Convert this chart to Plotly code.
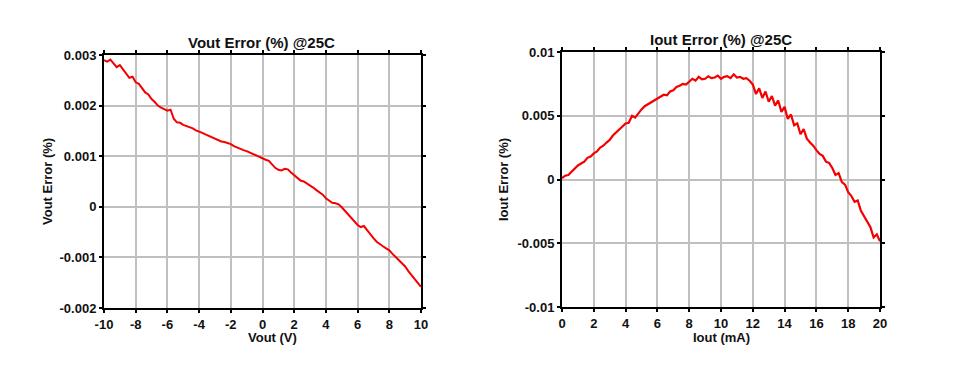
import plotly.graph_objects as go

# ---- Data ----
vout_v = [-10.0, -9.8, -9.6, -9.4, -9.2, -9.0, -8.8, -8.6, -8.4, -8.2, -8.0, -7.8, -7.6, -7.4, -7.2, -7.0,
          -6.8, -6.6, -6.4, -6.2, -6.0, -5.8, -5.6, -5.4, -5.2, -5.0, -4.8, -4.6, -4.4, -4.2, -4.0,
          -3.8, -3.6, -3.4, -3.2, -3.0, -2.8, -2.6, -2.4, -2.2, -2.0, -1.8, -1.6, -1.4, -1.2, -1.0,
          -0.8, -0.6, -0.4, -0.2, 0.0, 0.2, 0.4, 0.6, 0.8, 1.0, 1.2, 1.4, 1.6, 1.8, 2.0,
          2.2, 2.4, 2.6, 2.8, 3.0, 3.2, 3.4, 3.6, 3.8, 4.0, 4.2, 4.4, 4.6, 4.8, 5.0,
          5.2, 5.4, 5.6, 5.8, 6.0, 6.2, 6.4, 6.6, 6.8, 7.0, 7.2, 7.4, 7.6, 7.8, 8.0,
          8.2, 8.4, 8.6, 8.8, 9.0, 9.2, 9.4, 9.6, 9.8, 10.0]
vout_err = [0.00290, 0.00287, 0.00291, 0.00283, 0.00276, 0.00280, 0.00272, 0.00262, 0.00255, 0.00257,
            0.00246, 0.00243, 0.00235, 0.00226, 0.00222, 0.00213, 0.00207, 0.00200, 0.00196, 0.00193,
            0.00190, 0.00192, 0.00174, 0.00167, 0.00166, 0.00162, 0.00160, 0.00157, 0.00155, 0.00151,
            0.00149, 0.00146, 0.00143, 0.00140, 0.00137, 0.00135, 0.00131, 0.00129, 0.00128, 0.00126,
            0.00124, 0.00120, 0.00117, 0.00115, 0.00112, 0.00110, 0.00107, 0.00104, 0.00102, 0.00098,
            0.00096, 0.00093, 0.00091, 0.00084, 0.00077, 0.00073, 0.00072, 0.00075, 0.00074, 0.00068,
            0.00062, 0.00057, 0.00052, 0.00050, 0.00046, 0.00043, 0.00038, 0.00033, 0.00028, 0.00024,
            0.00017, 0.00012, 0.00008, 0.00007, 0.00005, -0.00001, -0.00008, -0.00015, -0.00024, -0.00030,
            -0.00036, -0.00040, -0.00038, -0.00046, -0.00055, -0.00062, -0.00069, -0.00074, -0.00078, -0.00082,
            -0.00086, -0.00093, -0.00099, -0.00104, -0.00112, -0.00118, -0.00127, -0.00135, -0.00141, -0.00150,
            -0.00158]

iout_ma = [0.0, 0.2, 0.4, 0.6, 0.8, 1.0, 1.2, 1.4, 1.6, 1.8, 2.0, 2.2, 2.4, 2.6, 2.8, 3.0, 3.2, 3.4, 3.6, 3.8,
           4.0, 4.2, 4.4, 4.6, 4.8, 5.0, 5.2, 5.4, 5.6, 5.8, 6.0, 6.2, 6.4, 6.6, 6.8, 7.0, 7.2, 7.4, 7.6, 7.8,
           8.0, 8.2, 8.4, 8.6, 8.8, 9.0, 9.2, 9.4, 9.6, 9.8, 10.0, 10.2, 10.4, 10.6, 10.8, 11.0, 11.2, 11.4,
           11.6, 11.8, 12.0, 12.2, 12.4, 12.6, 12.8, 13.0, 13.2, 13.4, 13.6, 13.8, 14.0, 14.2, 14.4, 14.6,
           14.8, 15.0, 15.2, 15.4, 15.6, 15.8, 16.0, 16.2, 16.4, 16.6, 16.8, 17.0, 17.2, 17.4, 17.6, 17.8,
           18.0, 18.2, 18.4, 18.6, 18.8, 19.0, 19.2, 19.4, 19.6, 19.8, 20.0]
iout_err = [0.00010, 0.00030, 0.00035, 0.00060, 0.00085, 0.00110, 0.00125, 0.00140, 0.00170, 0.00180,
            0.00205, 0.00220, 0.00250, 0.00265, 0.00290, 0.00310, 0.00345, 0.00370, 0.00390, 0.00420,
            0.00440, 0.00445, 0.00500, 0.00485, 0.00520, 0.00550, 0.00575, 0.00590, 0.00600, 0.00620,
            0.00635, 0.00650, 0.00665, 0.00660, 0.00690, 0.00700, 0.00725, 0.00735, 0.00750, 0.00745,
            0.00770, 0.00790, 0.00775, 0.00805, 0.00785, 0.00790, 0.00810, 0.00795, 0.00800, 0.00815,
            0.00790, 0.00805, 0.00810, 0.00795, 0.00825, 0.00800, 0.00805, 0.00790, 0.00795, 0.00775,
            0.00745, 0.00670, 0.00715, 0.00640, 0.00690, 0.00610, 0.00655, 0.00580, 0.00620, 0.00530,
            0.00570, 0.00475, 0.00510, 0.00425, 0.00440, 0.00355, 0.00395, 0.00320, 0.00290, 0.00265,
            0.00230, 0.00200, 0.00185, 0.00140, 0.00130, 0.00090, 0.00035, 0.00050, -0.00020, -0.00040,
            -0.00100, -0.00130, -0.00175, -0.00165, -0.00245, -0.00285, -0.00330, -0.00375, -0.00455, -0.00430,
            -0.00485]

left_xticks = [-10, -8, -6, -4, -2, 0, 2, 4, 6, 8, 10]
left_xtext = ["-10", "-8", "-6", "-4", "-2", "0", "2", "4", "6", "8", "10"]
left_yticks = [-0.002, -0.001, 0, 0.001, 0.002, 0.003]
left_ytext = ["-0.002", "-0.001", "0", "0.001", "0.002", "0.003"]
right_xticks = [0, 2, 4, 6, 8, 10, 12, 14, 16, 18, 20]
right_xtext = ["0", "2", "4", "6", "8", "10", "12", "14", "16", "18", "20"]
right_yticks = [-0.01, -0.005, 0, 0.005, 0.01]
right_ytext = ["-0.01", "-0.005", "0", "0.005", "0.01"]

FONT = "Arial, Liberation Sans, sans-serif"
RED = "#f50000"
W, H = 957, 387
OFF = 8  # page body margin shifts the figure by 8px


def px_x(p):
    return (p - OFF) / W


def px_y(p):
    return 1 - (p - OFF) / H


fig = go.Figure()
fig.add_trace(go.Scatter(x=vout_v, y=vout_err, mode="lines", line=dict(color=RED, width=2),
                         xaxis="x", yaxis="y", showlegend=False))
fig.add_trace(go.Scatter(x=iout_ma, y=iout_err, mode="lines", line=dict(color=RED, width=2.2),
                         xaxis="x2", yaxis="y2", showlegend=False))

common = dict(showline=True, linecolor="black", linewidth=2, mirror="allticks",
              ticks="outside", ticklen=3, tickwidth=2, tickcolor="black",
              showgrid=True, gridcolor="#c0c0c0", gridwidth=2, zeroline=False, automargin=False,
              tickfont=dict(family=FONT, size=13, color="#111", weight="bold"))


def ann(text, x, y, size, angle=0):
    return dict(text=text, x=px_x(x), y=px_y(y), xref="paper", yref="paper",
                xanchor="center", yanchor="middle", textangle=angle, showarrow=False,
                font=dict(size=size, family=FONT, weight="bold", color="#111"))


fig.update_layout(
    width=W, height=H, margin=dict(l=0, r=0, t=0, b=0, autoexpand=False),
    paper_bgcolor="white", plot_bgcolor="white",
    font=dict(family=FONT, color="#111", weight="bold"),
    xaxis=dict(domain=[px_x(104), px_x(421)], range=[-10, 10], tickvals=left_xticks, ticktext=left_xtext,
               anchor="y", **common),
    yaxis=dict(domain=[px_y(308), px_y(55)], range=[-0.002, 0.003], tickvals=left_yticks, ticktext=left_ytext,
               anchor="x", **common),
    xaxis2=dict(domain=[px_x(562), px_x(880)], range=[0, 20], tickvals=right_xticks, ticktext=right_xtext,
                anchor="y2", **common),
    yaxis2=dict(domain=[px_y(307), px_y(52)], range=[-0.01, 0.01], tickvals=right_yticks, ticktext=right_ytext,
                anchor="x2", **common),
    annotations=[
        ann("Vout Error (%) @25C", 262, 42, 15),
        ann("Iout Error (%) @25C", 721, 40, 15),
        ann("Vout (V)", 272, 337, 13),
        ann("Iout (mA)", 721, 337, 13),
        ann("Vout Error (%)", 47, 182, 13, -90),
        ann("Iout Error (%)", 503, 180, 13, -90),
    ],
)

fig.write_html("out.html")
